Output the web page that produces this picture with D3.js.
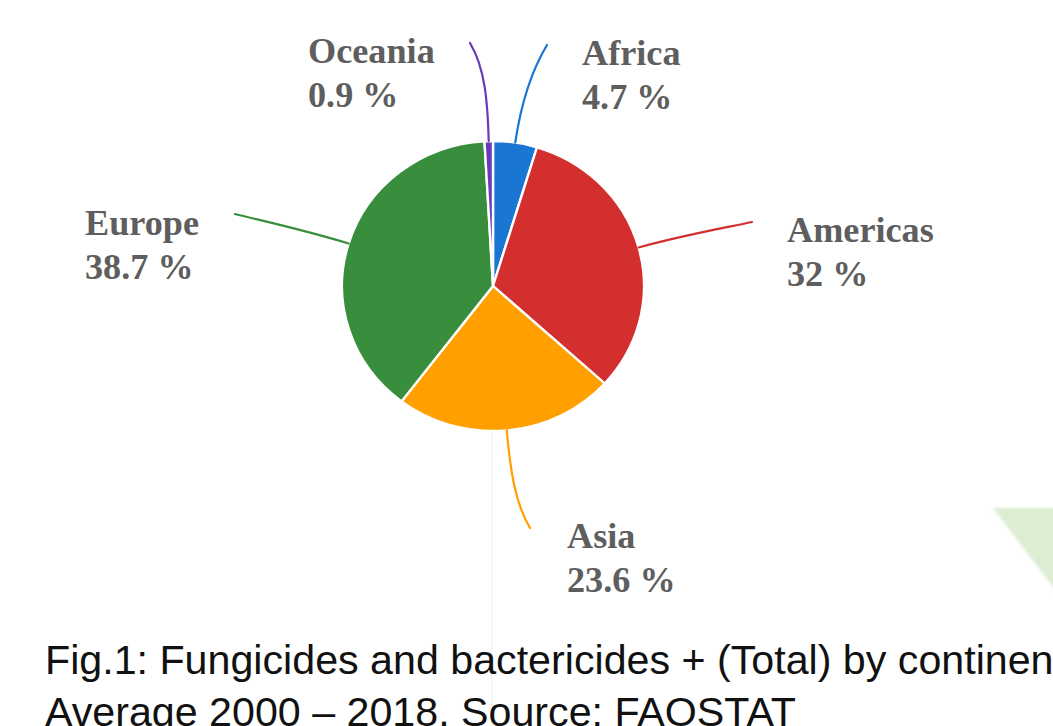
<!DOCTYPE html>
<html>
<head>
<meta charset="utf-8">
<script src="https://cdn.jsdelivr.net/npm/d3@7"></script>
<style>
  html, body { margin: 0; padding: 0; background: #ffffff; overflow: hidden; }
  svg { display: block; }
</style>
</head>
<body>
<svg id="chart" width="1053" height="726"></svg>
<script>
// Share of fungicide & bactericide use by continent (average 2000–2018, %)
const continents = ["Africa", "Americas", "Asia", "Europe", "Oceania"];
const shares = [4.7, 32, 23.6, 38.7, 0.9];
const shareLabels = ["4.7 %", "32 %", "23.6 %", "38.7 %", "0.9 %"];
const sliceColors = ["#1976d2", "#d32f2f", "#ffa000", "#388e3c", "#673ab7"];
const captionLines = [
  "Fig.1: Fungicides and bactericides + (Total) by continent",
  "Average 2000 \u2013 2018. Source: FAOSTAT"
];

// Layout
const W = 1053, H = 726;
const cx = 493, cy = 286, rx = 151, ry = 145;
const stretchX = 1.035; // slight horizontal widening of the text blocks
// outer end of each leader line, and the bend of its final segment
const leaderEnds = [[547, 45], [752, 222], [530, 528], [235, 214], [470, 43]];
const endBend = [[-15, 25], [-28, 6], [-15, -25], [28, 7], [15, 25]];
// top-left anchor (first baseline) of each label block
const labelPos = [[582, 65], [787, 242], [567, 548], [85, 235], [308, 63]];
const labelLineGap = 44;

const svg = d3.select("#chart");

// faint page decorations
const defs = svg.append("defs");
defs.append("filter").attr("id", "soft")
  .append("feGaussianBlur").attr("stdDeviation", 1.6);

svg.append("line")
  .attr("x1", 492).attr("x2", 492).attr("y1", 432).attr("y2", H)
  .attr("stroke", "#f3f3f3").attr("stroke-width", 1.5);

svg.append("polygon")
  .attr("points", "993,508 1060,508 1060,596")
  .attr("fill", "#dcedd2")
  .attr("filter", "url(#soft)");

// pie
const rows = continents.map((c, i) => ({
  name: c, share: shares[i], label: shareLabels[i], color: sliceColors[i]
}));

const pie = d3.pie().sort(null).value(d => d.share).startAngle(0).endAngle(2 * Math.PI);
const arcs = pie(rows);
const arc = d3.arc().innerRadius(0).outerRadius(rx);

const pieG = svg.append("g")
  .attr("transform", `translate(${cx},${cy}) scale(1,${ry / rx})`);

pieG.selectAll("path.slice")
  .data(arcs)
  .join("path")
  .attr("class", "slice")
  .attr("d", arc)
  .attr("fill", d => d.data.color)
  .attr("stroke", "#ffffff")
  .attr("stroke-width", 2.4)
  .attr("stroke-linejoin", "round");

// leader lines from the middle of each slice's rim
const leaders = svg.append("g").attr("fill", "none").attr("stroke-width", 2.2).attr("stroke-linecap", "round");

arcs.forEach((a, i) => {
  const mid = (a.startAngle + a.endAngle) / 2;
  const ux = Math.sin(mid), uy = -Math.cos(mid);
  const ex = cx + rx * ux, ey = cy + ry * uy;
  const [lx, ly] = leaderEnds[i];
  const dist = Math.hypot(lx - ex, ly - ey);
  const c1 = [ex + ux * dist * 0.4, ey + uy * dist * 0.4];
  const c2 = [lx + endBend[i][0], ly + endBend[i][1]];
  const p = d3.path();
  p.moveTo(ex, ey);
  p.bezierCurveTo(c1[0], c1[1], c2[0], c2[1], lx, ly);
  leaders.append("path")
    .attr("d", p.toString())
    .attr("stroke", a.data.color);
});

// labels
const labels = svg.append("g")
  .attr("font-family", "'Liberation Serif', 'Times New Roman', serif")
  .attr("font-weight", "bold")
  .attr("font-size", 35)
  .attr("fill", "#5e5e5e");

arcs.forEach((a, i) => {
  const [x, y] = labelPos[i];
  const t = labels.append("text")
    .attr("transform", `translate(${x},${y}) scale(${stretchX},1)`);
  t.append("tspan").attr("x", 0).attr("y", 0).text(a.data.name);
  t.append("tspan").attr("x", 0).attr("y", labelLineGap).text(a.data.label);
});

// caption
const cap = svg.append("g")
  .attr("font-family", "'Liberation Sans', Arial, Helvetica, sans-serif")
  .attr("font-size", 40)
  .attr("fill", "#111111");

captionLines.forEach((line, i) => {
  cap.append("text")
    .attr("transform", `translate(45,${674 + i * 52}) scale(1.03,1)`)
    .text(line);
});
</script>
</body>
</html>
